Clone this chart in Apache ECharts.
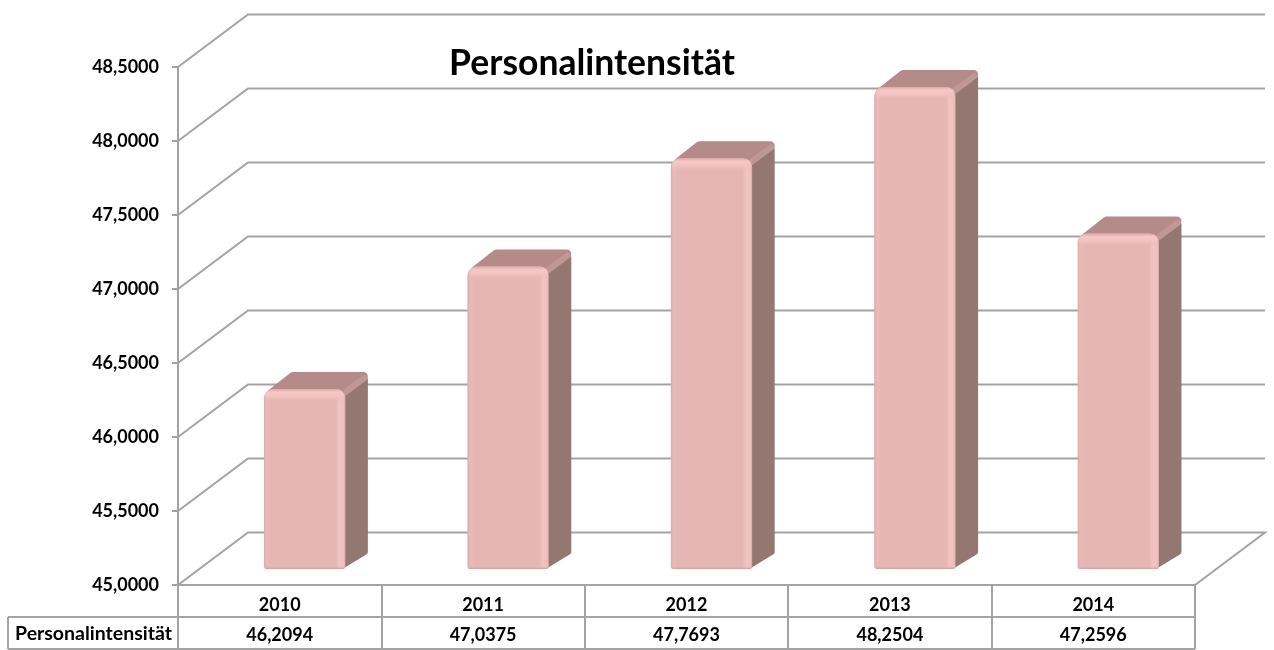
<!DOCTYPE html>
<html>
<head>
<meta charset="utf-8">
<title>Personalintensität</title>
<script src="https://cdn.jsdelivr.net/npm/echarts@6/dist/echarts.min.js"></script>
<style>
  html, body { margin: 0; padding: 0; background: #fff; }
  #chart { width: 1274px; height: 650px; }
</style>
</head>
<body>
<div id="chart"></div>
<script>
const years = ['2010', '2011', '2012', '2013', '2014'];
const values = [46.2094, 47.0375, 47.7693, 48.2504, 47.2596];
const tickValues = [45, 45.5, 46, 46.5, 47, 47.5, 48, 48.5];
const seriesName = 'Personalintensität';
const chartTitle = 'Personalintensität';

const fontName = 'Lato, "Open Sans", sans-serif';
const lineColor = '#a3a3a3';
// Tiefe der Wand und der Balken (Pixel)
const wallDepth = { x: 70, y: -52.5 };
const barDepth = { x: 23, y: -17 };
const barShift = { x: 25, y: -16 };

const fmt = v => v.toFixed(4).replace('.', ',');

function renderWall(params, api) {
    const cs = params.coordSys;
    const v = api.value(0);
    const y = api.coord([0, v])[1];
    const x0 = cs.x;
    const x1 = cs.x + cs.width;
    const pts = [[x0, y], [x0 + wallDepth.x, y + wallDepth.y], [x1 + wallDepth.x, y + wallDepth.y]];
    if (v === tickValues[0]) pts.push([x1, y]);
    return {
        type: 'polyline',
        shape: { points: pts },
        style: { stroke: lineColor, lineWidth: 2, fill: null }
    };
}

function renderBar(params, api) {
    const idx = api.value(0);
    const val = api.value(1);
    const band = api.size([1, 0])[0];
    const w = band * 0.4;
    const cx = api.coord([idx, tickValues[0]])[0] + barShift.x;
    const bottom = api.coord([idx, tickValues[0]])[1] + barShift.y;
    const top = api.coord([idx, val])[1] + barShift.y - 1;
    const l = cx - w / 2;
    const r = cx + w / 2;
    const dx = barDepth.x;
    const dy = barDepth.y;
    const hGrad = new echarts.graphic.LinearGradient(0, 0, 1, 0, [
        { offset: 0, color: '#dca9a7' },
        { offset: 0.03, color: '#ebbab8' },
        { offset: 0.09, color: '#e6b6b5' },
        { offset: 0.88, color: '#e6b6b5' },
        { offset: 0.93, color: '#f1c5c3' },
        { offset: 0.98, color: '#eec0be' },
        { offset: 1, color: '#d8a8a6' }
    ]);
    const topGrad = new echarts.graphic.LinearGradient(0, 0, 0, 1, [
        { offset: 0, color: '#dcaaa8' },
        { offset: 0.25, color: '#f5c8c6' },
        { offset: 0.6, color: '#f2c2c0' },
        { offset: 1, color: 'rgba(230,182,181,0)' }
    ]);
    const botGrad = new echarts.graphic.LinearGradient(0, 0, 0, 1, [
        { offset: 0, color: 'rgba(230,182,181,0)' },
        { offset: 1, color: '#cf9e9c' }
    ]);
    return {
        type: 'group',
        children: [
            {
                type: 'polygon',
                shape: { points: [[r - 3, top + 8], [r + dx - 3, top + dy + 8], [r + dx - 3, bottom + dy], [r - 3, bottom - 3]] },
                style: { fill: '#957772', stroke: '#957772', lineWidth: 5, lineJoin: 'round' }
            },
            {
                type: 'polygon',
                shape: { points: [[l + 8, top + 4], [l + dx + 6, top + dy + 4.5], [r + dx - 5, top + dy + 4.5], [r - 3, top + 4]] },
                style: { fill: '#b58b89', stroke: '#b58b89', lineWidth: 9, lineJoin: 'round' }
            },
            {
                type: 'polyline',
                shape: { points: [[r, top + 3], [r + dx - 4, top + dy + 6]] },
                style: { stroke: '#bf9896', lineWidth: 6, fill: null, lineCap: 'round' }
            },
            {
                type: 'rect',
                shape: { x: l, y: top, width: w, height: bottom - top, r: [9, 9, 3, 3] },
                style: { fill: hGrad }
            },
            {
                type: 'rect',
                shape: { x: l + 1, y: top, width: w - 2, height: 13, r: [9, 9, 0, 0] },
                style: { fill: topGrad }
            },
            {
                type: 'rect',
                shape: { x: l, y: bottom - 3, width: w, height: 3, r: [0, 0, 3, 3] },
                style: { fill: botGrad }
            }
        ]
    };
}

// Tabelle unter dem Diagramm: waagerechte Linien und Kopfzelle
function renderTable(params, api) {
    const cs = params.coordSys;
    const x0 = cs.x;
    const x1 = cs.x + cs.width;
    const y0 = cs.y + cs.height;
    const line = (xa, ya, xb, yb) => ({
        type: 'line',
        shape: { x1: xa, y1: ya, x2: xb, y2: yb },
        style: { stroke: lineColor, lineWidth: 2 }
    });
    return {
        type: 'group',
        children: [
            line(8, y0 + 32, x1, y0 + 32),
            line(8, y0 + 64, x1, y0 + 64),
            line(8, y0 + 32, 8, y0 + 64),
            line(x0, y0, x0, y0 + 64),
            {
                type: 'text',
                style: {
                    x: (x0 + 9) / 2, y: y0 + 49, text: seriesName,
                    font: 'bold 19.5px ' + fontName, fill: '#000',
                    align: 'center', verticalAlign: 'middle'
                }
            }
        ]
    };
}

const chart = echarts.init(document.getElementById('chart'), null, { renderer: 'canvas' });
chart.setOption({
    animation: false,
    backgroundColor: '#fff',
    title: {
        text: chartTitle,
        left: 587, top: 41, textAlign: 'center',
        textStyle: { fontFamily: fontName, fontWeight: 'bold', fontSize: 35.5, color: '#000' }
    },
    grid: { left: 178, top: 67, width: 1017, height: 518 },
    xAxis: [
        {
            type: 'category',
            data: years,
            position: 'bottom',
            axisLine: { show: true, lineStyle: { color: lineColor, width: 2 } },
            axisTick: { show: true, length: 64, lineStyle: { color: lineColor, width: 2 } },
            axisLabel: { margin: 11, fontFamily: fontName, fontWeight: 'bold', fontSize: 18, color: '#000' }
        },
        {
            type: 'category',
            data: values.map(fmt),
            position: 'bottom',
            offset: 32,
            axisLine: { show: false },
            axisTick: { show: false },
            axisLabel: { margin: 9, fontFamily: fontName, fontWeight: 'bold', fontSize: 18, color: '#000' }
        }
    ],
    yAxis: {
        type: 'value',
        min: 45,
        max: 48.5,
        interval: 0.5,
        axisLine: { show: true, lineStyle: { color: lineColor, width: 2 } },
        axisTick: { show: true, length: 6, lineStyle: { color: lineColor, width: 2 } },
        splitLine: { show: false },
        axisLabel: { margin: 19, padding: [6, 0, 0, 0], formatter: fmt, fontFamily: fontName, fontWeight: 'bold', fontSize: 18, color: '#000' }
    },
    series: [
        {
            type: 'custom',
            name: 'wall',
            xAxisIndex: 0,
            renderItem: renderWall,
            data: tickValues.map(v => [v]),
            encode: { y: 0 },
            silent: true,
            z: 1
        },
        {
            type: 'custom',
            name: 'table',
            xAxisIndex: 0,
            renderItem: renderTable,
            data: [[0, 45]],
            encode: { x: 0, y: 1 },
            silent: true,
            z: 1
        },
        {
            type: 'custom',
            name: seriesName,
            xAxisIndex: 0,
            renderItem: renderBar,
            data: values.map((v, i) => [i, v]),
            encode: { x: 0, y: 1 },
            z: 3
        }
    ]
});
window.addEventListener('resize', () => chart.resize());
</script>
</body>
</html>
